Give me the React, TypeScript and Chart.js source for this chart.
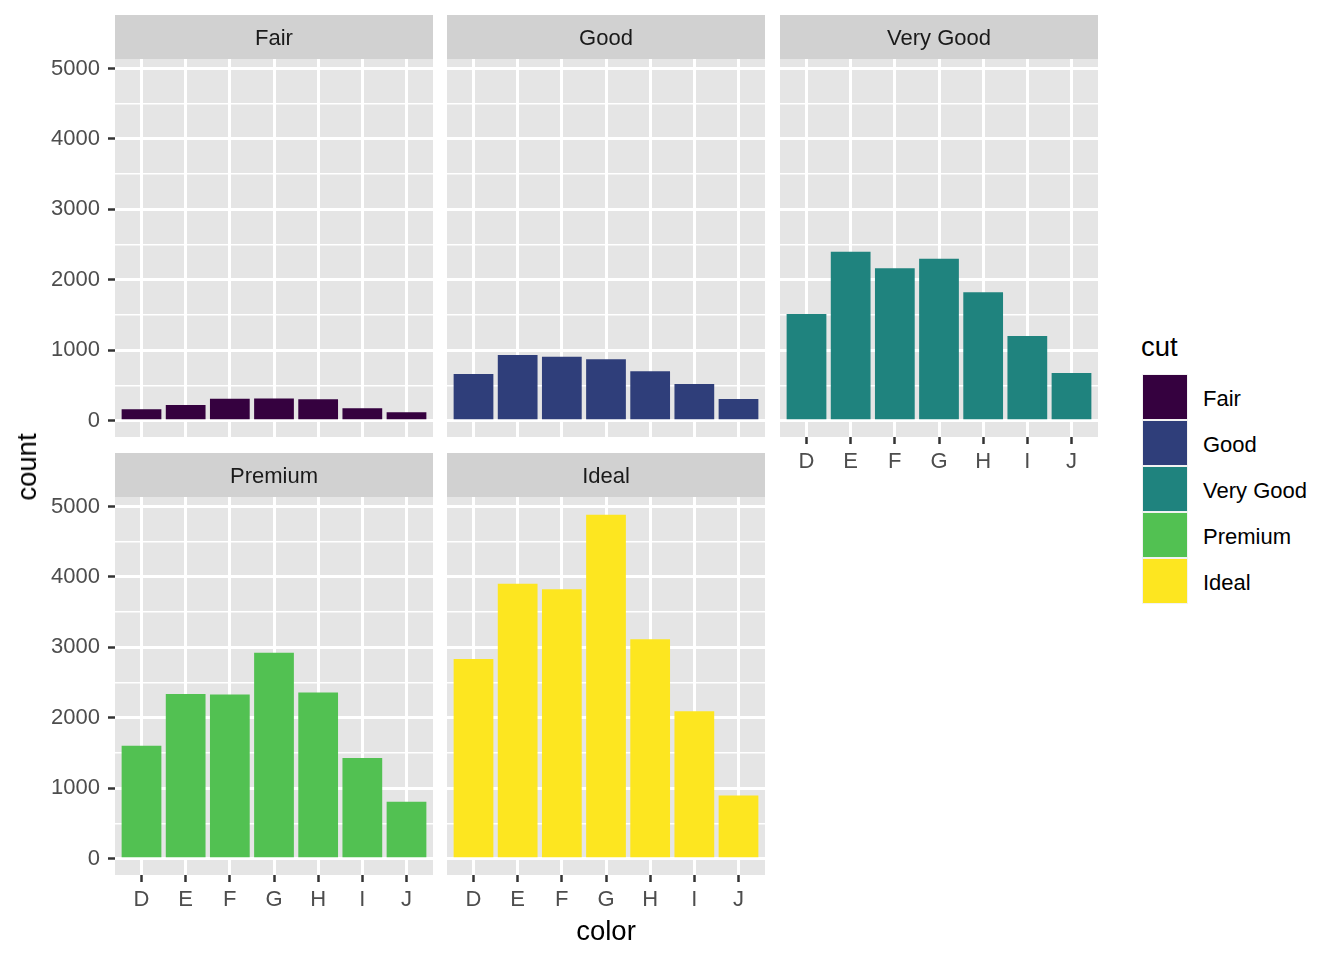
import React, { useEffect, useRef } from "react";
import { Chart, registerables } from "chart.js";

Chart.register(...registerables);

// ---------- data ----------
const COLOR_LEVELS = ["D", "E", "F", "G", "H", "I", "J"];
const CUTS = ["Fair", "Good", "Very Good", "Premium", "Ideal"];
const fairCounts = [163, 224, 312, 314, 303, 175, 119];
const goodCounts = [662, 933, 909, 871, 702, 522, 307];
const veryGoodCounts = [1513, 2400, 2164, 2299, 1824, 1204, 678];
const premiumCounts = [1603, 2337, 2331, 2924, 2360, 1428, 808];
const idealCounts = [2834, 3903, 3826, 4884, 3115, 2093, 896];
const SERIES = [fairCounts, goodCounts, veryGoodCounts, premiumCounts, idealCounts];
const Y_TICKS = [0, 500, 1000, 1500, 2000, 2500, 3000, 3500, 4000, 4500, 5000];
const Y_MAJOR_STEP = 1000;

// ---------- styles ----------
const FILLS = ["#35013f", "#2f3e7a", "#1f837e", "#52c152", "#fde620"];
const PANEL_BG = "#e5e5e5";
const STRIP_BG = "#d1d1d1";
const FONT = "'Liberation Sans', Arial, Helvetica, sans-serif";
const Y_MIN = -232;
const Y_MAX = 5136;
const X_MIN = 0.4;
const X_MAX = 7.6;

const STRIP_H = 44;
const PANEL_H = 378;
const PANEL_W = 318;
const Y_AXIS_W = 115;
const X_AXIS_H = 45;
const EXTRA_BOTTOM = 30;

const PANELS = [
  { idx: 0, left: 115, top: 15, showY: true, showX: false },
  { idx: 1, left: 447, top: 15, showY: false, showX: false },
  { idx: 2, left: 780, top: 15, showY: false, showX: true },
  { idx: 3, left: 115, top: 453, showY: true, showX: true },
  { idx: 4, left: 447, top: 453, showY: false, showX: true },
];

function Panel({ idx, left, top, showY, showX }: any) {
  const ref = useRef<HTMLCanvasElement | null>(null);
  const bottomPad = showX ? 0 : EXTRA_BOTTOM;
  const w = PANEL_W + (showY ? Y_AXIS_W : 0);
  const h = STRIP_H + PANEL_H + (showX ? X_AXIS_H : 0) + bottomPad;
  const canvasLeft = left - (showY ? Y_AXIS_W : 0);

  useEffect(() => {
    if (!ref.current) return;
    const label = CUTS[idx];
    const bgPlugin = {
      id: "panelBg",
      beforeDraw(chart: any) {
        const { ctx, chartArea } = chart;
        ctx.save();
        ctx.fillStyle = PANEL_BG;
        ctx.fillRect(chartArea.left, chartArea.top, chartArea.right - chartArea.left, chartArea.bottom - chartArea.top);
        ctx.fillStyle = STRIP_BG;
        ctx.fillRect(chartArea.left, 0, chartArea.right - chartArea.left, STRIP_H);
        ctx.fillStyle = "#1a1a1a";
        ctx.font = `22px ${FONT}`;
        ctx.textAlign = "center";
        ctx.textBaseline = "middle";
        ctx.fillText(label, (chartArea.left + chartArea.right) / 2, STRIP_H / 2 + 2);
        ctx.restore();
      },
    };
    const chart = new Chart(ref.current, {
      type: "bar",
      data: {
        datasets: [
          {
            label,
            data: SERIES[idx].map((v, i) => ({ x: i + 1, y: v })),
            backgroundColor: FILLS[idx],
            borderWidth: 0,
            categoryPercentage: 1,
            barPercentage: 0.9,
          },
        ],
      },
      options: {
        animation: false,
        responsive: false,
        events: [],
        layout: { padding: { top: STRIP_H, left: 0, right: 0, bottom: bottomPad } },
        plugins: { legend: { display: false }, tooltip: { enabled: false } },
        scales: {
          x: {
            type: "linear",
            min: X_MIN,
            max: X_MAX,
            offset: false,
            afterBuildTicks: (s: any) => {
              s.ticks = COLOR_LEVELS.map((_, i) => ({ value: i + 1 }));
            },
            afterFit: (s: any) => {
              s.height = showX ? X_AXIS_H : 0;
            },
            border: { display: false },
            grid: {
              offset: false,
              color: "#ffffff",
              lineWidth: 3,
              drawTicks: showX,
              tickLength: 7,
              tickColor: "#333333",
              tickWidth: 2.5,
            },
            ticks: {
              display: showX,
              autoSkip: false,
              maxRotation: 0,
              padding: 5,
              color: "#4d4d4d",
              font: { size: 22, family: FONT },
              callback: (v: any) => COLOR_LEVELS[Math.round(Number(v)) - 1] ?? "",
            },
          },
          y: {
            type: "linear",
            min: Y_MIN,
            max: Y_MAX,
            afterBuildTicks: (s: any) => {
              s.ticks = Y_TICKS.map((v) => ({ value: v }));
            },
            afterFit: (s: any) => {
              s.width = showY ? Y_AXIS_W : 0;
            },
            border: { display: false },
            grid: {
              color: "#ffffff",
              lineWidth: (c: any) => (c.tick && c.tick.value % Y_MAJOR_STEP === 0 ? 3 : 1.5),
              drawTicks: showY,
              tickLength: 7,
              tickColor: (c: any) =>
                c.tick && c.tick.value % Y_MAJOR_STEP === 0 ? "#333333" : "rgba(0,0,0,0)",
              tickWidth: 2.5,
            },
            ticks: {
              display: showY,
              autoSkip: false,
              padding: 8,
              color: "#4d4d4d",
              font: { size: 22, family: FONT },
              callback: (v: any) => (Number(v) % Y_MAJOR_STEP === 0 ? String(v) : ""),
            },
          },
        },
      },
      plugins: [bgPlugin],
    } as any);
    return () => chart.destroy();
  }, [idx, showX, showY, bottomPad]);

  return (
    <canvas
      ref={ref}
      width={w}
      height={h}
      style={{ position: "absolute", left: canvasLeft, top, width: w, height: h }}
    />
  );
}

export default function App() {
  return (
    <div
      style={{
        position: "absolute",
        left: 0,
        top: 0,
        width: 1344,
        height: 960,
        background: "#ffffff",
        fontFamily: FONT,
        overflow: "hidden",
      }}
    >
      {PANELS.map((p) => (
        <Panel key={p.idx} {...p} />
      ))}
      {/* axis titles */}
      <div
        style={{
          position: "absolute",
          left: 27,
          top: 467,
          transform: "translate(-50%, -50%) rotate(-90deg)",
          fontSize: 27.5,
          lineHeight: "28px",
          color: "#000",
          whiteSpace: "nowrap",
        }}
      >
        count
      </div>
      <div
        style={{
          position: "absolute",
          left: 606,
          top: 931,
          transform: "translate(-50%, -50%)",
          fontSize: 27.5,
          lineHeight: "28px",
          color: "#000",
          whiteSpace: "nowrap",
        }}
      >
        color
      </div>
      {/* legend */}
      <div
        style={{
          position: "absolute",
          left: 1141,
          top: 333,
          fontSize: 27.5,
          lineHeight: "28px",
          color: "#000",
        }}
      >
        cut
      </div>
      {CUTS.map((c, i) => (
        <React.Fragment key={c}>
          <div
            style={{
              position: "absolute",
              left: 1142,
              top: 374 + i * 46,
              width: 46,
              height: 46,
              background: "#f2f2f2",
            }}
          >
            <div
              style={{
                position: "absolute",
                left: 1,
                top: 1,
                width: 44,
                height: 44,
                background: FILLS[i],
              }}
            />
          </div>
          <div
            style={{
              position: "absolute",
              left: 1203,
              top: 374 + i * 46 + 25,
              transform: "translateY(-50%)",
              fontSize: 22,
              lineHeight: "24px",
              color: "#000",
              whiteSpace: "nowrap",
            }}
          >
            {c}
          </div>
        </React.Fragment>
      ))}
    </div>
  );
}
